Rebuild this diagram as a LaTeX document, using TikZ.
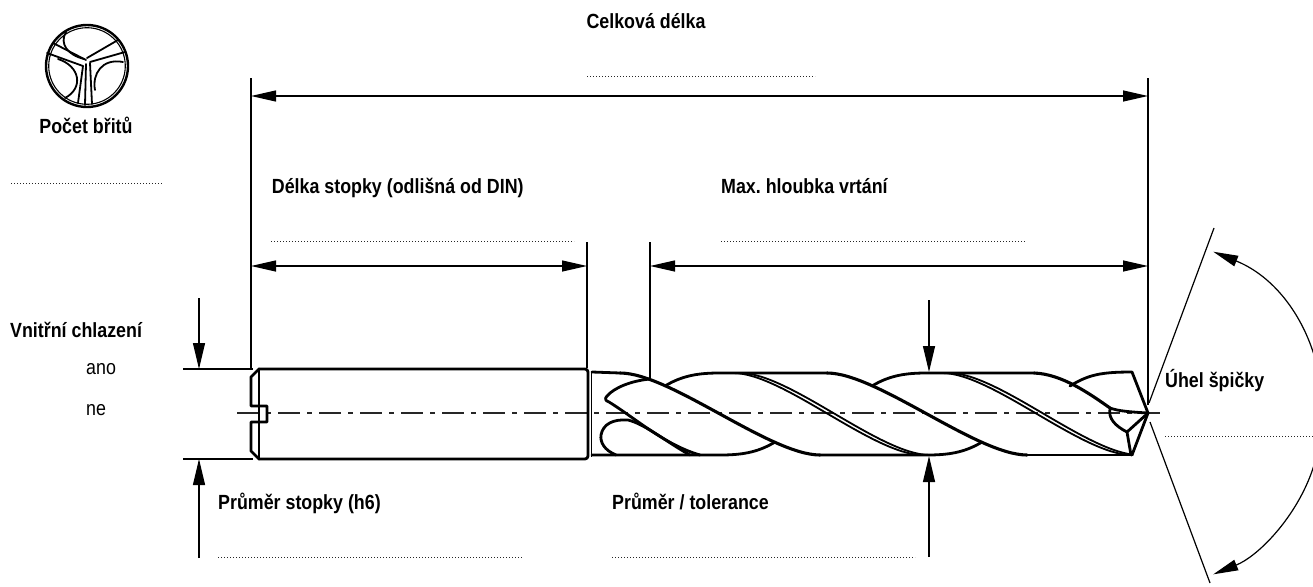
\documentclass[tikz,border=0pt]{standalone}
\usepackage{fontspec}
\setmainfont{Liberation Sans}[FakeStretch=0.87]
\usetikzlibrary{arrows.meta}
\frenchspacing
\begin{document}
\begin{tikzpicture}[x=1pt,y=-1pt,
  lbl/.style={font=\fontsize{20.5}{24}\selectfont\bfseries, inner sep=0pt, anchor=base west},
  rlbl/.style={font=\fontsize{20.5}{24}\selectfont, inner sep=0pt, anchor=base west},
  dims/.style={line width=1.2pt},
  dimarr/.style={dims,{Triangle[length=25pt,width=11pt]}-{Triangle[length=25pt,width=11pt]}},
  onearr/.style={dims,-{Triangle[length=26pt,width=12pt]}},
  dots/.style={line width=1pt, black!85, dash pattern=on 1pt off 2pt},
  outl/.style={line width=2.8pt, line join=round, line cap=round},
  hel/.style={line width=3.1pt, line cap=round},
  dbl/.style={line width=1.8pt, line cap=round},
  icl/.style={line width=1.8pt, line cap=round},
  ctr/.style={line width=1.1pt, black!85, dash pattern=on 22pt off 7pt on 5pt off 7pt}]
\useasboundingbox (0,0) rectangle (1313,586);

% ---------- icon ----------
\node[draw, circle, minimum size=82pt, line width=2.4pt, inner sep=0pt] (ico) at (87,66) {};
\draw[line width=1.1pt] (ico.center) circle[radius=38.3];
\begin{scope}[icl]
  \draw (53,43) -- (86,60);  \draw (47,53) -- (83,66);
  \draw (118,40) -- (87,58); \draw (125,52) -- (90,62);
  \draw (78,103) -- (83,66); \draw (92,104) -- (90,63); \draw (85,105) -- (86,64);
  \draw (66,32) .. controls (59,44) and (68,55) .. (84,59);
  \draw (58,59) .. controls (80,66) and (84,88) .. (65,98);
  \draw (123,62) .. controls (102,58) and (92,74) .. (95,90);
\end{scope}
\node[lbl, anchor=base] (pocet) at (86,133.3) {Počet břitů};
\coordinate (d1a) at (11,183); \coordinate (d1b) at (163,183);
\draw[dots] (d1a) -- (d1b);

% ---------- texts ----------
\node[lbl, anchor=base] (celk) at (646,28.5) {Celková délka};
\node[lbl] (delka) at (271.7,193.3) {Délka stopky (odlišná od DIN)};
\node[lbl] (maxh) at (721,193.3) {Max. hloubka vrtání};
\node[lbl] (vnit) at (10,337.3) {Vnitřní chlazení};
\node[rlbl] (ano) at (86,374) {ano};
\node[rlbl] (ne) at (86,415) {ne};
\node[lbl] (prst) at (218,509.5) {Průměr stopky (h6)};
\node[lbl] (prtol) at (612,509.5) {Průměr / tolerance};
\node[lbl] (uhel) at (1165,387.3) {Úhel špičky};

% ---------- dotted answer lines ----------
\draw[dots] (587,76) -- (815,76);
\draw[dots] (271,241) -- (574,241);
\draw[dots] (721,241) -- (1025,241);
\draw[dots] (218,557) -- (522,557);
\draw[dots] (612,557) -- (915,557);
\draw[dots] (1165,436) -- (1313,436);

% ---------- extension & dimension lines ----------
\coordinate (eL) at (251,78);  \coordinate (eLb) at (251,368);
\coordinate (eR) at (1148,78); \coordinate (eRb) at (1148,405);
\coordinate (eS) at (587,242); \coordinate (eSb) at (587,368);
\coordinate (eF) at (650,242); \coordinate (eFb) at (650,378);
\draw[dims] (eL) -- (eLb);
\draw[dims] (eR) -- (eRb);
\draw[dims] (eS) -- (eSb);
\draw[dims] (eF) -- (eFb);
\draw[dimarr] (251,96) -- (1148,96);
\draw[dimarr] (251,266) -- (587,266);
\draw[dimarr] (650,266) -- (1148,266);

% shank diameter
\draw[dims] (183,369) -- (253,369);
\draw[dims] (183,459) -- (253,459);
\draw[onearr] (199,298) -- (199,369);
\draw[onearr] (199,558) -- (199,459);
% body diameter
\draw[onearr] (929,300) -- (929,372);
\draw[onearr] (929,557) -- (929,456);

% point angle
\coordinate (tip) at (1148,413);
\draw[dims] (1149,403) -- (1214,228);
\draw[dims] (1150,422) -- (1210,583);
\draw[dimarr] (1213.2,251.7) arc[start angle=-68, end angle=68, radius=174];

% ---------- centre line ----------
\draw[ctr] (237,413) -- (1160,413);

% ---------- shank ----------
\draw[outl] (259,369) -- (585,369) to[out=0,in=90] (588,372) -- (588,456) to[out=-90,in=0] (585,459)
  -- (259,459) -- (251,451) -- (251,422) -- (267,422) -- (267,406) -- (251,406) -- (251,377) -- cycle;
\draw[outl] (259,369) -- (259,459);
\draw[line width=1.6pt] (591.5,371) -- (591.5,457);

% ---------- fluted body ----------
% top silhouette
\draw[outl] (592,372) -- (620,373);
\draw[outl] (665,386) .. controls (683,375) and (700,373) .. (720,373) -- (827,373);
\draw[outl] (872,386) .. controls (890,375) and (907,373) .. (927,373) -- (1034,373);
\draw[outl] (1070,386) .. controls (1088,375) and (1100,372) .. (1132,372) -- (tip) -- (1132,455);
% bottom silhouette
\draw[outl] (592,455) -- (720,455) .. controls (740,455) and (757,453) .. (775,442);
\draw[outl] (820,455) -- (927,455) .. controls (947,455) and (964,453) .. (982,442);
\draw[outl] (1027,455) -- (1132,455);

\begin{scope}
  \clip (592,368) rectangle (1133,460);
  % thick helix edges
  \foreach \c in {720,927}
    \draw[hel] ({\c-100},373) .. controls ({\c-50},373) and ({\c+50},455) .. ({\c+100},455);
  % double helix edges
  \foreach \d in {828,1037} {
    \draw[dbl] ({\d-95},373) .. controls ({\d-45},373) and ({\d+45},455) .. ({\d+95},455);
    \draw[dbl] ({\d-88},373) .. controls ({\d-38},373) and ({\d+52},455) .. ({\d+102},455);
  }
\end{scope}
% last helix edge running into the lip
\draw[hel] (1034,373) .. controls (1062,374) and (1090,394) .. (1110,408);
% flute run-out (leaf and blob)
\draw[outl] (650,379) .. controls (630,381) and (614,388) .. (607,396)
  .. controls (604,399) and (606,401) .. (609,402) .. controls (635,418) and (665,445) .. (700,455);
\draw[outl] (616,455) .. controls (604,450) and (600,442) .. (601,435)
  .. controls (603,424) and (613,419) .. (628,420) .. controls (645,424) and (668,443) .. (690,455);
% point details
\draw[outl] (1110,408) .. controls (1118,411) and (1130,412) .. (tip);
\draw[outl] (1110,409) .. controls (1108,418) and (1115,426) .. (1127,432);
\draw[outl] (tip) -- (1127,432) -- (1131,455);
\end{tikzpicture}
\end{document}
